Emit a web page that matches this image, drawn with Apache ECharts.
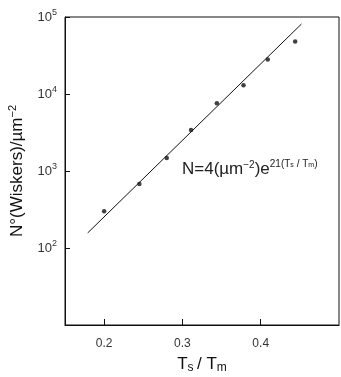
<!DOCTYPE html>
<html>
<head>
<meta charset="utf-8">
<script src="https://cdn.jsdelivr.net/npm/echarts@6/dist/echarts.min.js"></script>
<style>
  html, body { margin: 0; padding: 0; background: #fff; }
  #chart { width: 341px; height: 377px; }
</style>
</head>
<body>
<div id="chart"></div>
<script>
// measured points: Ts/Tm vs whisker density
const ratioValues = [0.2, 0.245, 0.28, 0.311, 0.344, 0.378, 0.409, 0.444];
const densityValues = [300, 680, 1480, 3400, 7600, 13000, 28000, 48000];

// fitted line end points
const fitRatio = [0.179, 0.452];
const fitDensity = [157, 81000];

const xTicks = [0.2, 0.3, 0.4];
const yTicks = [100, 1000, 10000, 100000];

const font = "Liberation Sans, Arial, sans-serif";
const ink = "#111";

const points = ratioValues.map((x, i) => [x, densityValues[i]]);
const fitLine = fitRatio.map((x, i) => [x, fitDensity[i]]);

const option = {
  animation: false,
  backgroundColor: "#fff",
  grid: {
    left: 65,
    right: 2,
    top: 17,
    bottom: 52,
    outerBoundsMode: "none",
    show: true,
    borderColor: ink,
    borderWidth: 1,
  },
  xAxis: {
    type: "value",
    min: 0.15,
    max: 0.5,
    name: "{t|T}{s|s} {t|/ T}{s|m}",
    nameLocation: "middle",
    nameGap: 29,
    nameTextStyle: {
      rich: {
        t: { fontFamily: font, fontSize: 17, color: ink },
        s: { fontFamily: font, fontSize: 12, color: ink, padding: [8, 0, 0, 0] },
      },
    },
    axisLine: { lineStyle: { color: ink, width: 1 } },
    axisTick: { inside: true, length: 6, customValues: xTicks, lineStyle: { color: ink } },
    axisLabel: {
      customValues: xTicks,
      formatter: (v) => v.toFixed(1),
      fontFamily: font,
      fontSize: 12,
      color: "#333",
      margin: 13,
    },
    splitLine: { show: false },
  },
  yAxis: {
    type: "log",
    logBase: 10,
    min: 10,
    max: 100000,
    name: "{t|N°(Wiskers)/µm}{s|−2}",
    nameLocation: "middle",
    nameGap: 37,
    nameRotate: 90,
    nameTextStyle: {
      rich: {
        t: { fontFamily: font, fontSize: 17, color: ink },
        s: { fontFamily: font, fontSize: 11, color: ink, padding: [0, 0, 10, 0] },
      },
    },
    axisLine: { show: true, lineStyle: { color: ink, width: 1 } },
    axisTick: { inside: true, length: 5, customValues: yTicks, lineStyle: { color: ink } },
    axisLabel: {
      customValues: yTicks,
      formatter: (v) => "{b|10}{s|" + Math.round(Math.log10(v)) + "}",
      margin: 8,
      rich: {
        b: { fontFamily: font, fontSize: 13, color: "#333" },
        s: { fontFamily: font, fontSize: 9, color: "#333", padding: [0, 0, 9, 0] },
      },
    },
    splitLine: { show: false },
  },
  graphic: [
    {
      type: "text",
      left: 182,
      top: 159,
      style: {
        text: "{m|N=4(µm}{s|−2}{m|)e}{e|21(T}{ss|s}{e| / T}{ss|m}{e|)}",
        rich: {
          m: { fontFamily: font, fontSize: 17, fill: "#222" },
          s: { fontFamily: font, fontSize: 10, fill: "#222", padding: [0, 0, 8, 0] },
          e: { fontFamily: font, fontSize: 10, fill: "#222", padding: [0, 0, 11, 0] },
          ss: { fontFamily: font, fontSize: 7, fill: "#222", padding: [0, 0, 8, 0] },
        },
      },
    },
  ],
  series: [
    {
      name: "fit",
      type: "line",
      data: fitLine,
      symbol: "none",
      lineStyle: { color: ink, width: 1 },
      silent: true,
    },
    {
      name: "data",
      type: "scatter",
      data: points,
      symbolSize: 4.5,
      itemStyle: { color: ink },
    },
  ],
};

const myChart = echarts.init(document.getElementById("chart"));
myChart.setOption(option);
</script>
</body>
</html>
